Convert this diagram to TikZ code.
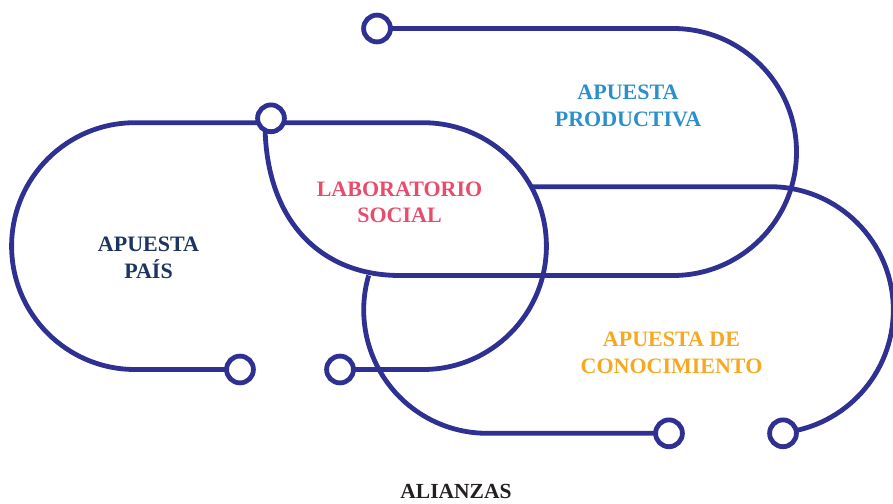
\documentclass[tikz,border=0pt]{standalone}
\usepackage{fontspec}
\setmainfont{Liberation Serif}
\definecolor{wirec}{RGB}{46,49,146}
\definecolor{paisc}{RGB}{28,52,96}
\definecolor{labc}{RGB}{232,76,108}
\definecolor{prodc}{RGB}{42,143,204}
\definecolor{conc}{RGB}{247,168,35}
\definecolor{alic}{RGB}{35,31,32}
\begin{document}
\begin{tikzpicture}[x=1pt,y=1pt,
  wire/.style={draw=wirec, line width=4.8pt},
  dot/.style={circle, draw=wirec, line width=4.8pt, fill=white, minimum size=26.8pt, inner sep=0pt},
  lbl/.style={font=\bfseries\fontsize{22}{26.5}\selectfont, align=center, inner sep=0pt}]
\useasboundingbox (0,0) rectangle (893,503);
% terminal points
\coordinate (p1) at (271,384.7);
\coordinate (p2) at (240,133.5);
\coordinate (p3) at (340,133.5);
\coordinate (p4) at (377,474.5);
\coordinate (p5) at (669,69.7);
\coordinate (p6) at (783,69.7);
\coordinate (ytop) at (0,380.3);
\coordinate (q1) at (265,380);
\coordinate (j1) at (531.1,316.3);
% connectors
\draw[wire] (p2) -- (135,133.5) arc[start angle=270,end angle=90,radius=123.4] -- (p1 |- ytop);
\draw[wire] (p1 |- ytop) -- (423,380.3) arc[start angle=90,end angle=-90,radius=123.4] -- (p3);
\draw[wire] (p4) -- (673,474.5) arc[start angle=90,end angle=-90,radius=123.5] -- (400,227.5) .. controls (320,227.5) and (265,283) .. (q1);
\draw[wire] (j1) -- (770,316.3) arc[start angle=90,end angle=-84,radius=123.3] -- (p6);
\draw[wire] (p5) -- (487,69.7) arc[start angle=270,end angle=163.75,radius=123.3];
% terminal circles
\foreach \i in {1,...,6} \node[dot] (c\i) at (p\i) {};
% labels
\node[lbl, text=paisc] (pais) at (148.5,245) {APUESTA\\PAÍS};
\node[lbl, text=labc] (lab) at (399.5,300.5) {LABORATORIO\\SOCIAL};
\node[lbl, text=prodc] (prod) at (628,397) {APUESTA\\PRODUCTIVA};
\node[lbl, text=conc] (conoc) at (671.5,150.3) {APUESTA DE\\CONOCIMIENTO};
\node[lbl, text=alic, anchor=base, font=\bfseries\fontsize{21.5}{24}\selectfont] (ali) at (456,4.5) {ALIANZAS};
\end{tikzpicture}
\end{document}
